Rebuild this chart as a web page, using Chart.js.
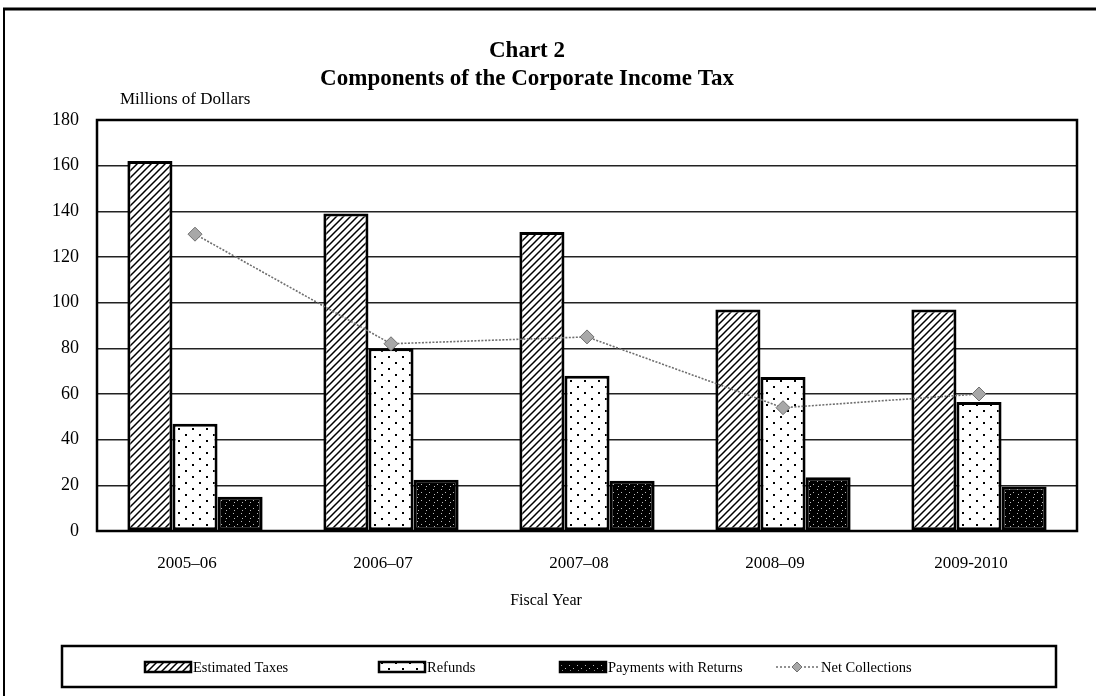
<!DOCTYPE html>
<html>
<head>
<meta charset="utf-8">
<script src="https://cdn.jsdelivr.net/npm/chart.js@4.4.1/dist/chart.umd.min.js"></script>
<style>
  html,body{margin:0;padding:0;background:#fff;}
  canvas{display:block;}
</style>
</head>
<body>
<canvas id="c" width="1096" height="696"></canvas>
<script>
// ---- data ----
const categories = ['2005\u201306', '2006\u201307', '2007\u201308', '2008\u201309', '2009-2010'];
const estimatedTaxes = [162, 139, 131, 97, 97];
const refunds = [47, 80, 68, 67.5, 56.5];
const paymentsWithReturns = [15, 22.5, 22, 23.5, 19.5];
const netCollections = [130, 82, 85, 54, 60];
const yTicks = [0, 20, 40, 60, 80, 100, 120, 140, 160, 180];
const titleLines = ['Chart 2', 'Components of the Corporate Income Tax'];
const yAxisLabel = 'Millions of Dollars';
const xAxisLabel = 'Fiscal Year';

const FONT = '"Liberation Serif", "Times New Roman", serif';

function makeCanvas(w, h) { const c = document.createElement('canvas'); c.width = w; c.height = h; return c; }

function hatchPattern(ctx) {
  const s = 7, c = makeCanvas(s, s), g = c.getContext('2d');
  g.fillStyle = '#fff'; g.fillRect(0, 0, s, s);
  g.strokeStyle = '#000'; g.lineWidth = 1.5;
  g.beginPath();
  g.moveTo(0, s); g.lineTo(s, 0);
  g.moveTo(-s / 2, s / 2); g.lineTo(s / 2, -s / 2);
  g.moveTo(s / 2, s * 1.5); g.lineTo(s * 1.5, s / 2);
  g.stroke();
  return ctx.createPattern(c, 'repeat');
}
function dotPattern(ctx) {
  const c = makeCanvas(14, 12), g = c.getContext('2d');
  g.fillStyle = '#fff'; g.fillRect(0, 0, 14, 12);
  g.fillStyle = '#000';
  g.fillRect(3, 2, 2, 2); g.fillRect(10, 8, 2, 2);
  return ctx.createPattern(c, 'repeat');
}
function darkPattern(ctx) {
  const c = makeCanvas(8, 8), g = c.getContext('2d');
  g.fillStyle = '#000'; g.fillRect(0, 0, 8, 8);
  g.fillStyle = '#bbb';
  g.fillRect(1, 1, 1, 1); g.fillRect(5, 4, 1, 1); g.fillRect(2, 6, 1, 1);
  return ctx.createPattern(c, 'repeat');
}

const canvas = document.getElementById('c');
const cx = canvas.getContext('2d');
const patEst = hatchPattern(cx), patRef = dotPattern(cx), patPay = darkPattern(cx);

const legendXs = [145, 379, 560, 776];

const deco = {
  id: 'deco',
  beforeDraw(chart) {
    const ctx = chart.ctx;
    ctx.save();
    ctx.fillStyle = '#fff';
    ctx.fillRect(0, 0, chart.width, chart.height);
    ctx.restore();
  },
  afterDraw(chart) {
    const ctx = chart.ctx, a = chart.chartArea;
    ctx.save();
    // plot frame
    ctx.strokeStyle = '#000'; ctx.lineWidth = 2.5;
    ctx.strokeRect(a.left, a.top, a.right - a.left, a.bottom - a.top);
    // page frame (top + left)
    ctx.lineWidth = 3;
    ctx.beginPath(); ctx.moveTo(3, 9); ctx.lineTo(1096, 9); ctx.stroke();
    ctx.lineWidth = 2;
    ctx.beginPath(); ctx.moveTo(4, 8); ctx.lineTo(4, 696); ctx.stroke();
    // title
    ctx.fillStyle = '#000'; ctx.textAlign = 'center'; ctx.textBaseline = 'alphabetic';
    ctx.font = 'bold 23px ' + FONT;
    ctx.fillText(titleLines[0], 527, 57);
    ctx.fillText(titleLines[1], 527, 85);
    // axis labels
    ctx.font = '17px ' + FONT; ctx.textAlign = 'left';
    ctx.fillText(yAxisLabel, 120, 104);
    ctx.font = '16px ' + FONT; ctx.textAlign = 'center'; ctx.textBaseline = 'middle';
    ctx.fillText(xAxisLabel, 546, 601);
    // legend box
    ctx.lineWidth = 2.5; ctx.strokeStyle = '#000';
    ctx.strokeRect(62, 646, 994, 41);
    ctx.font = '14.5px ' + FONT; ctx.textAlign = 'left'; ctx.textBaseline = 'middle';
    const ly = 667;
    chart.data.datasets.forEach((ds, i) => {
      const x = legendXs[i];
      if (ds.type === 'line') {
        ctx.save();
        ctx.strokeStyle = ds.borderColor; ctx.lineWidth = 1.5; ctx.setLineDash([2, 2]);
        ctx.beginPath(); ctx.moveTo(x, ly); ctx.lineTo(x + 42, ly); ctx.stroke();
        ctx.setLineDash([]);
        ctx.fillStyle = ds.pointBackgroundColor; ctx.strokeStyle = ds.pointBorderColor; ctx.lineWidth = 1;
        ctx.beginPath(); ctx.moveTo(x + 21, ly - 5); ctx.lineTo(x + 26, ly); ctx.lineTo(x + 21, ly + 5); ctx.lineTo(x + 16, ly); ctx.closePath();
        ctx.fill(); ctx.stroke();
        ctx.restore();
        ctx.fillStyle = '#000';
        ctx.fillText(ds.label, x + 45, ly + 1);
      } else {
        ctx.fillStyle = ds.backgroundColor;
        ctx.fillRect(x, ly - 5, 46, 10);
        ctx.lineWidth = 2.5; ctx.strokeStyle = '#000';
        ctx.strokeRect(x, ly - 5, 46, 10);
        ctx.fillStyle = '#000';
        ctx.fillText(ds.label, x + 48, ly + 1);
      }
    });
    ctx.restore();
  }
};

new Chart(canvas, {
  data: {
    labels: categories,
    datasets: [
      { type: 'bar', label: 'Estimated Taxes', data: estimatedTaxes, backgroundColor: patEst, borderColor: '#000', borderWidth: 3, order: 1 },
      { type: 'bar', label: 'Refunds', data: refunds, backgroundColor: patRef, borderColor: '#000', borderWidth: 3, order: 1 },
      { type: 'bar', label: 'Payments with Returns', data: paymentsWithReturns, backgroundColor: patPay, borderColor: '#000', borderWidth: 3, order: 1 },
      { type: 'line', label: 'Net Collections', data: netCollections, borderColor: '#6e6e6e', borderWidth: 1.6, borderDash: [2, 1.5],
        pointStyle: 'rectRot', pointRadius: 7, pointBackgroundColor: '#a8a8a8', pointBorderColor: '#707070', pointBorderWidth: 1, order: 0, fill: false, tension: 0 }
    ]
  },
  options: {
    responsive: false,
    animation: false,
    devicePixelRatio: 1,
    layout: { padding: { top: 120, right: 19, bottom: 75, left: 0 } },
    datasets: { bar: { categoryPercentage: 0.69, barPercentage: 1.0, borderSkipped: false } },
    plugins: { legend: { display: false }, title: { display: false }, tooltip: { enabled: false } },
    scales: {
      x: {
        grid: { display: false, drawTicks: false },
        border: { display: false },
        ticks: { color: '#000', font: { family: FONT, size: 17 }, padding: 22, labelOffset: -8, maxRotation: 0 },
        title: { display: false },
        afterFit(s) { s.height = 90; }
      },
      y: {
        min: 0, max: 180,
        afterBuildTicks(s) { s.ticks = yTicks.map(v => ({ value: v })); },
        grid: { color: '#222', lineWidth: 1.5, drawTicks: false },
        border: { display: false },
        ticks: { color: '#000', font: { family: FONT, size: 18 }, padding: 18 },
        afterFit(s) { s.width = 97; }
      }
    }
  },
  plugins: [deco]
});
</script>
</body>
</html>
